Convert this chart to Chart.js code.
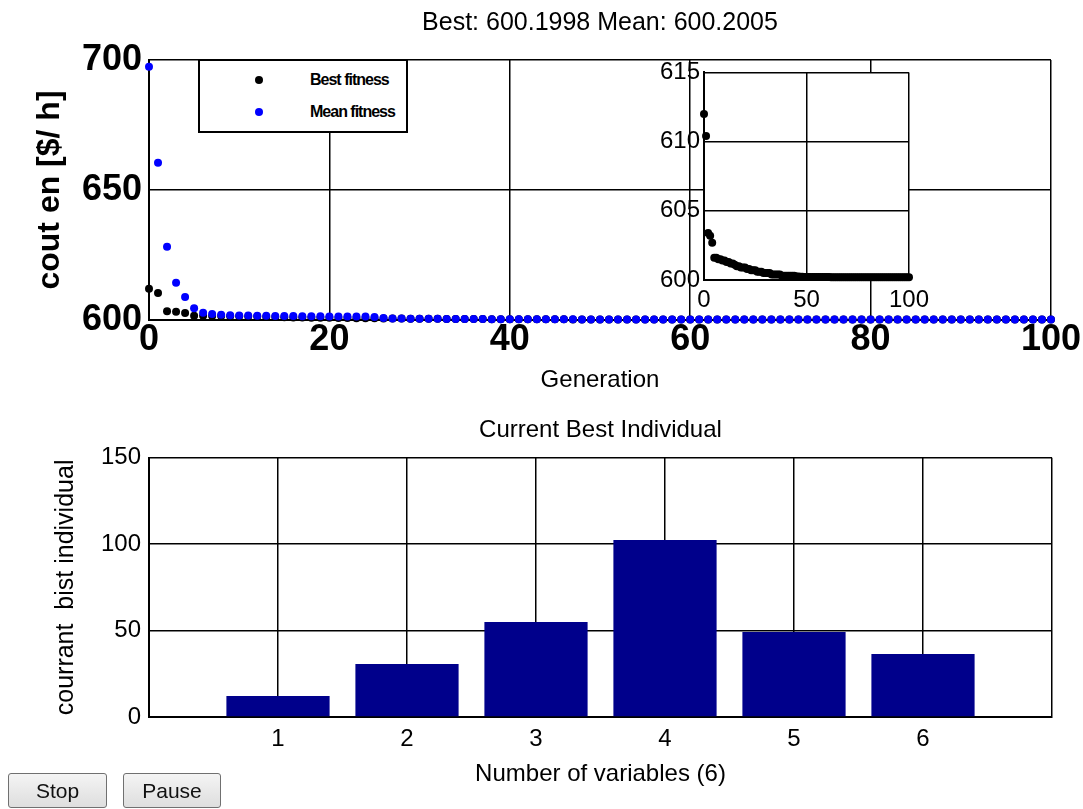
<!DOCTYPE html>
<html>
<head>
<meta charset="utf-8">
<script src="https://cdn.jsdelivr.net/npm/chart.js@4.4.1/dist/chart.umd.min.js"></script>
<style>
  body { margin: 0; background: #fff; width: 1083px; height: 809px; position: relative; overflow: hidden;
         font-family: 'Liberation Sans', Arial, sans-serif; }
  canvas { position: absolute; }
  #fitChart { left: 0; top: 0; }
  #zoomChart { left: 640px; top: 54px; }
  #indivChart { left: 0; top: 400px; }
  #legend { position: absolute; left: 198px; top: 59px; width: 210px; height: 74px; box-sizing: border-box;
            border: 2px solid #000; background: #fff; }
  #legend .dot { position: absolute; left: 55px; width: 8px; height: 8px; border-radius: 50%; }
  #legend .lbl { position: absolute; left: 110px; font-weight: bold; font-size: 16px; letter-spacing: -1px; line-height: 16px; }
  button { position: absolute; top: 773px; height: 35px; font-family: 'Liberation Sans', Arial, sans-serif; font-size: 21px;
           border: 1px solid #707070; border-radius: 3px; background: linear-gradient(#f4f4f4, #dedede); color: #111; padding: 0; }
  #stopBtn { left: 8px; width: 99px; }
  #pauseBtn { left: 123px; width: 98px; }
</style>
</head>
<body>
<canvas id="fitChart" width="1083" height="400"></canvas>
<div id="legend">
  <span class="dot" style="top:15px;background:#000"></span><span class="lbl" style="top:11px">Best fitness</span>
  <span class="dot" style="top:47px;background:#0000ff"></span><span class="lbl" style="top:43px">Mean fitness</span>
</div>
<canvas id="zoomChart" width="295" height="258"></canvas>
<canvas id="indivChart" width="1083" height="409"></canvas>
<button id="stopBtn">Stop</button>
<button id="pauseBtn">Pause</button>
<script>
// fitness per generation (index = generation 0..100)
const bestFitness = [
  612.0, 610.4, 603.4, 603.2, 602.7, 601.6, 601.6, 601.5, 601.5, 601.4,
  601.4, 601.3, 601.3, 601.2, 601.2, 601.1, 601.0, 601.0, 600.9, 600.9,
  600.9, 600.8, 600.8, 600.7, 600.7, 600.7, 600.6, 600.6, 600.6, 600.5,
  600.5, 600.5, 600.5, 600.4, 600.4, 600.4, 600.4, 600.4, 600.3, 600.3,
  600.3, 600.3, 600.3, 600.3, 600.3, 600.25, 600.25, 600.24, 600.23, 600.22,
  600.22, 600.21, 600.21, 600.21, 600.21, 600.21, 600.21, 600.21, 600.21, 600.21,
  600.21, 600.21, 600.2, 600.2, 600.2, 600.2, 600.2, 600.2, 600.2, 600.2,
  600.2, 600.2, 600.2, 600.2, 600.2, 600.2, 600.2, 600.2, 600.2, 600.2,
  600.2, 600.2, 600.2, 600.2, 600.2, 600.2, 600.2, 600.2, 600.2, 600.2,
  600.2, 600.2, 600.2, 600.2, 600.2, 600.2, 600.2, 600.2, 600.2, 600.2,
  600.1998
];
const meanFitness = [
  697.4, 660.5, 628.2, 614.3, 608.8, 604.5, 602.8, 602.3, 602.0, 601.8,
  601.7, 601.7, 601.6, 601.6, 601.5, 601.5, 601.5, 601.4, 601.4, 601.4,
  601.3, 601.3, 601.3, 601.3, 601.3, 601.2, 600.8, 600.6, 600.6, 600.5,
  600.5, 600.5, 600.5, 600.4, 600.4, 600.4, 600.4, 600.4, 600.3, 600.3,
  600.3, 600.3, 600.3, 600.3, 600.3, 600.26, 600.25, 600.25, 600.24, 600.23,
  600.23, 600.22, 600.22, 600.22, 600.21, 600.21, 600.21, 600.21, 600.21, 600.21,
  600.21, 600.21, 600.21, 600.2, 600.2, 600.2, 600.2, 600.2, 600.2, 600.2,
  600.2, 600.2, 600.2, 600.2, 600.2, 600.2, 600.2, 600.2, 600.2, 600.2,
  600.2, 600.2, 600.2, 600.2, 600.2, 600.2, 600.2, 600.2, 600.2, 600.2,
  600.2, 600.2, 600.2, 600.2, 600.2, 600.2, 600.2, 600.2, 600.2, 600.2,
  600.2005
];

// current best individual
const variables = ['1', '2', '3', '4', '5', '6'];
const bestIndividual = [12.2, 30.7, 55.0, 102.5, 49.2, 36.5];

Chart.defaults.font.family = "'Liberation Sans', Arial, sans-serif";
Chart.defaults.color = '#000';
Chart.defaults.animation = false;

const toPoints = arr => arr.map((v, i) => ({ x: i, y: v }));

const gridOpts = { color: '#000', lineWidth: 1.5, drawTicks: false };
const borderOpts = { color: '#000', width: 2 };

// white plot background for the inset
const whiteArea = {
  id: 'whiteArea',
  beforeDraw(chart) {
    const a = chart.chartArea;
    chart.ctx.save();
    chart.ctx.fillStyle = '#fff';
    chart.ctx.fillRect(a.left, a.top, a.right - a.left, a.bottom - a.top);
    chart.ctx.restore();
  }
};

new Chart(document.getElementById('fitChart'), {
  type: 'scatter',
  data: {
    datasets: [
      { label: 'Mean fitness', data: toPoints(meanFitness), backgroundColor: '#0000ff', pointRadius: 4, pointBorderWidth: 0, clip: false },
      { label: 'Best fitness', data: toPoints(bestFitness), backgroundColor: '#000', pointRadius: 4, pointBorderWidth: 0, clip: false }
    ]
  },
  options: {
    responsive: false,
    layout: { autoPadding: false, padding: { left: 0, right: 31, top: 0, bottom: 0 } },
    plugins: {
      legend: { display: false },
      tooltip: { enabled: false },
      title: { display: true, fullSize: false, text: 'Best: 600.1998 Mean: 600.2005',
               font: { size: 25, weight: 'normal', lineHeight: 1.2 }, padding: { top: 8, bottom: 22 } }
    },
    scales: {
      x: {
        type: 'linear', min: 0, max: 100,
        ticks: { stepSize: 20, maxRotation: 0, padding: 2, font: { size: 36, weight: 'bold', lineHeight: 1 } },
        grid: gridOpts, border: borderOpts,
        title: { display: true, text: 'Generation', font: { size: 24, lineHeight: 1.2 }, padding: { top: 0, bottom: 5 } },
        afterFit: s => { s.height = 80; }
      },
      y: {
        min: 600, max: 700,
        ticks: { stepSize: 50, padding: 7, font: { size: 36, weight: 'bold', lineHeight: 1 } },
        grid: gridOpts, border: borderOpts,
        title: { display: true, text: 'cout en [$/ h]', font: { size: 32, weight: 'bold', lineHeight: 1.2 }, padding: { top: 31, bottom: 0 } },
        afterFit: s => { s.width = 149; }
      }
    }
  }
});

new Chart(document.getElementById('zoomChart'), {
  type: 'scatter',
  data: {
    datasets: [
      { label: 'Best fitness', data: toPoints(bestFitness), backgroundColor: '#000', pointRadius: 4, pointBorderWidth: 0, clip: false }
    ]
  },
  options: {
    responsive: false,
    layout: { autoPadding: false, padding: { left: 0, right: 16, top: 10, bottom: 0 } },
    plugins: { legend: { display: false }, tooltip: { enabled: false } },
    scales: {
      x: {
        type: 'linear', min: 0, max: 100,
        ticks: { stepSize: 50, maxRotation: 0, padding: 6, font: { size: 24, lineHeight: 1.2 } },
        grid: gridOpts, border: borderOpts,
        afterFit: s => { s.height = 32; }
      },
      y: {
        min: 600, max: 615,
        ticks: { stepSize: 5, padding: 4, font: { size: 24 } },
        grid: gridOpts, border: borderOpts,
        afterFit: s => { s.width = 64; }
      }
    }
  },
  plugins: [whiteArea]
});

new Chart(document.getElementById('indivChart'), {
  type: 'bar',
  data: {
    labels: ['', ...variables, ''],
    datasets: [{
      label: 'Current Best Individual',
      data: [null, ...bestIndividual, null],
      backgroundColor: '#00008b',
      borderWidth: 0,
      barPercentage: 0.8,
      categoryPercentage: 1.0
    }]
  },
  options: {
    responsive: false,
    layout: { autoPadding: false, padding: { left: 0, right: 31, top: 0, bottom: 0 } },
    plugins: {
      legend: { display: false },
      tooltip: { enabled: false },
      title: { display: true, fullSize: false, text: 'Current Best Individual',
               font: { size: 24, weight: 'normal', lineHeight: 1.2 }, padding: { top: 16, bottom: 13 } }
    },
    scales: {
      x: {
        offset: false,
        ticks: { maxRotation: 0, autoSkip: false, padding: 8, font: { size: 24, lineHeight: 1.2 } },
        grid: { color: '#000', lineWidth: 1.5, drawTicks: false, offset: false }, border: borderOpts,
        title: { display: true, text: 'Number of variables (6)', font: { size: 24, lineHeight: 1.2 }, padding: { top: 0, bottom: 20 } },
        afterFit: s => { s.height = 92; }
      },
      y: {
        min: 0, max: 150,
        ticks: { stepSize: 50, padding: 8, font: { size: 24 } },
        grid: gridOpts, border: borderOpts,
        title: { display: true, text: 'courrant  bist individual', font: { size: 25, lineHeight: 1.2 }, padding: { top: 51, bottom: 0 } },
        afterFit: s => { s.width = 149; }
      }
    }
  }
});
</script>
</body>
</html>
